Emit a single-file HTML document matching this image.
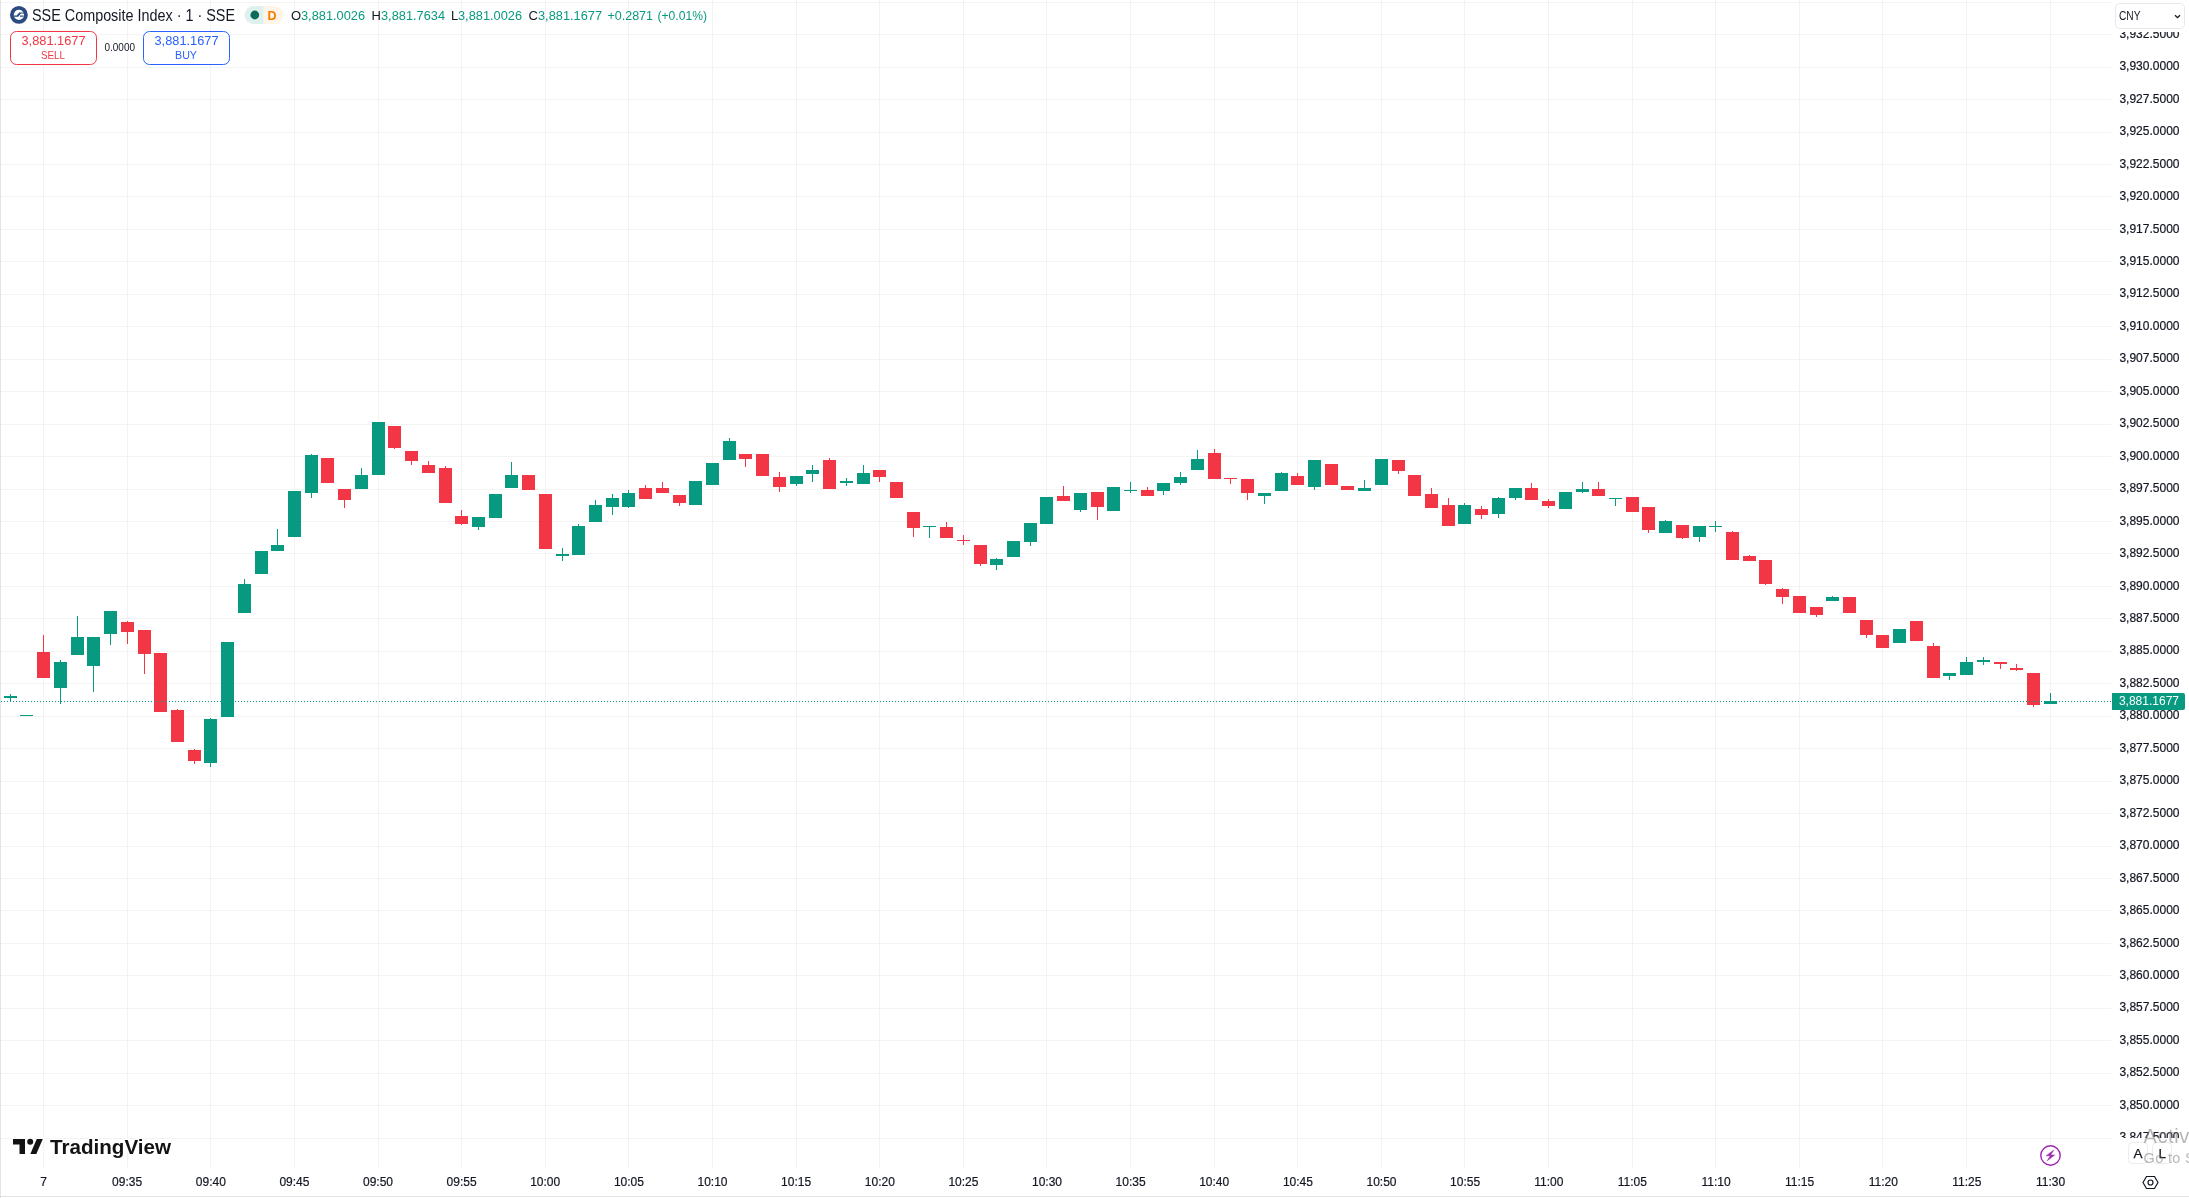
<!DOCTYPE html><html><head><meta charset="utf-8"><style>html,body{margin:0;padding:0;background:#fff;overflow:hidden}svg{display:block;will-change:transform}text{font-family:"Liberation Sans",sans-serif}</style></head><body><svg width="2189" height="1198" viewBox="0 0 2189 1198"><rect x="0" y="0" width="2189" height="1198" fill="#ffffff"/><g fill="#f3f3f4"><rect x="43" y="0" width="1" height="1168"/><rect x="127" y="0" width="1" height="1168"/><rect x="210" y="0" width="1" height="1168"/><rect x="294" y="0" width="1" height="1168"/><rect x="378" y="0" width="1" height="1168"/><rect x="461" y="0" width="1" height="1168"/><rect x="545" y="0" width="1" height="1168"/><rect x="628" y="0" width="1" height="1168"/><rect x="712" y="0" width="1" height="1168"/><rect x="796" y="0" width="1" height="1168"/><rect x="879" y="0" width="1" height="1168"/><rect x="963" y="0" width="1" height="1168"/><rect x="1046" y="0" width="1" height="1168"/><rect x="1130" y="0" width="1" height="1168"/><rect x="1214" y="0" width="1" height="1168"/><rect x="1297" y="0" width="1" height="1168"/><rect x="1381" y="0" width="1" height="1168"/><rect x="1464" y="0" width="1" height="1168"/><rect x="1548" y="0" width="1" height="1168"/><rect x="1632" y="0" width="1" height="1168"/><rect x="1715" y="0" width="1" height="1168"/><rect x="1799" y="0" width="1" height="1168"/><rect x="1882" y="0" width="1" height="1168"/><rect x="1966" y="0" width="1" height="1168"/><rect x="2050" y="0" width="1" height="1168"/><rect x="0" y="2" width="2111" height="1"/><rect x="0" y="34" width="2111" height="1"/><rect x="0" y="67" width="2111" height="1"/><rect x="0" y="99" width="2111" height="1"/><rect x="0" y="132" width="2111" height="1"/><rect x="0" y="164" width="2111" height="1"/><rect x="0" y="196" width="2111" height="1"/><rect x="0" y="229" width="2111" height="1"/><rect x="0" y="261" width="2111" height="1"/><rect x="0" y="294" width="2111" height="1"/><rect x="0" y="326" width="2111" height="1"/><rect x="0" y="359" width="2111" height="1"/><rect x="0" y="391" width="2111" height="1"/><rect x="0" y="424" width="2111" height="1"/><rect x="0" y="456" width="2111" height="1"/><rect x="0" y="489" width="2111" height="1"/><rect x="0" y="521" width="2111" height="1"/><rect x="0" y="553" width="2111" height="1"/><rect x="0" y="586" width="2111" height="1"/><rect x="0" y="618" width="2111" height="1"/><rect x="0" y="651" width="2111" height="1"/><rect x="0" y="683" width="2111" height="1"/><rect x="0" y="716" width="2111" height="1"/><rect x="0" y="748" width="2111" height="1"/><rect x="0" y="781" width="2111" height="1"/><rect x="0" y="813" width="2111" height="1"/><rect x="0" y="846" width="2111" height="1"/><rect x="0" y="878" width="2111" height="1"/><rect x="0" y="910" width="2111" height="1"/><rect x="0" y="943" width="2111" height="1"/><rect x="0" y="975" width="2111" height="1"/><rect x="0" y="1008" width="2111" height="1"/><rect x="0" y="1040" width="2111" height="1"/><rect x="0" y="1073" width="2111" height="1"/><rect x="0" y="1105" width="2111" height="1"/><rect x="0" y="1138" width="2111" height="1"/></g><g shape-rendering="crispEdges"><rect x="4" y="696" width="13" height="2" fill="#089981"/><rect x="10" y="694" width="1" height="8" fill="#089981"/><rect x="20" y="715" width="13" height="1" fill="#089981"/><rect x="37" y="652" width="13" height="26" fill="#f23645"/><rect x="43" y="635" width="1" height="43" fill="#f23645"/><rect x="54" y="662" width="13" height="26" fill="#089981"/><rect x="60" y="660" width="1" height="44" fill="#089981"/><rect x="71" y="637" width="13" height="18" fill="#089981"/><rect x="77" y="616" width="1" height="39" fill="#089981"/><rect x="87" y="637" width="13" height="29" fill="#089981"/><rect x="93" y="637" width="1" height="55" fill="#089981"/><rect x="104" y="611" width="13" height="23" fill="#089981"/><rect x="110" y="611" width="1" height="34" fill="#089981"/><rect x="121" y="622" width="13" height="10" fill="#f23645"/><rect x="127" y="621" width="1" height="23" fill="#f23645"/><rect x="138" y="630" width="13" height="24" fill="#f23645"/><rect x="144" y="630" width="1" height="44" fill="#f23645"/><rect x="154" y="653" width="13" height="59" fill="#f23645"/><rect x="171" y="710" width="13" height="32" fill="#f23645"/><rect x="177" y="709" width="1" height="33" fill="#f23645"/><rect x="188" y="750" width="13" height="11" fill="#f23645"/><rect x="194" y="749" width="1" height="15" fill="#f23645"/><rect x="204" y="719" width="13" height="44" fill="#089981"/><rect x="210" y="718" width="1" height="49" fill="#089981"/><rect x="221" y="642" width="13" height="75" fill="#089981"/><rect x="238" y="584" width="13" height="29" fill="#089981"/><rect x="244" y="579" width="1" height="34" fill="#089981"/><rect x="255" y="551" width="13" height="23" fill="#089981"/><rect x="271" y="545" width="13" height="6" fill="#089981"/><rect x="277" y="529" width="1" height="22" fill="#089981"/><rect x="288" y="491" width="13" height="46" fill="#089981"/><rect x="305" y="455" width="13" height="38" fill="#089981"/><rect x="311" y="454" width="1" height="44" fill="#089981"/><rect x="321" y="458" width="13" height="25" fill="#f23645"/><rect x="338" y="489" width="13" height="11" fill="#f23645"/><rect x="344" y="489" width="1" height="19" fill="#f23645"/><rect x="355" y="475" width="13" height="14" fill="#089981"/><rect x="361" y="468" width="1" height="21" fill="#089981"/><rect x="372" y="422" width="13" height="53" fill="#089981"/><rect x="388" y="426" width="13" height="22" fill="#f23645"/><rect x="394" y="426" width="1" height="23" fill="#f23645"/><rect x="405" y="451" width="13" height="10" fill="#f23645"/><rect x="411" y="451" width="1" height="14" fill="#f23645"/><rect x="422" y="465" width="13" height="8" fill="#f23645"/><rect x="428" y="461" width="1" height="12" fill="#f23645"/><rect x="439" y="468" width="13" height="35" fill="#f23645"/><rect x="445" y="466" width="1" height="37" fill="#f23645"/><rect x="455" y="516" width="13" height="8" fill="#f23645"/><rect x="461" y="510" width="1" height="15" fill="#f23645"/><rect x="472" y="517" width="13" height="10" fill="#089981"/><rect x="478" y="517" width="1" height="13" fill="#089981"/><rect x="489" y="494" width="13" height="24" fill="#089981"/><rect x="505" y="475" width="13" height="13" fill="#089981"/><rect x="511" y="462" width="1" height="26" fill="#089981"/><rect x="522" y="475" width="13" height="15" fill="#f23645"/><rect x="539" y="494" width="13" height="55" fill="#f23645"/><rect x="556" y="554" width="13" height="2" fill="#089981"/><rect x="562" y="548" width="1" height="13" fill="#089981"/><rect x="572" y="526" width="13" height="29" fill="#089981"/><rect x="578" y="524" width="1" height="31" fill="#089981"/><rect x="589" y="505" width="13" height="17" fill="#089981"/><rect x="595" y="500" width="1" height="22" fill="#089981"/><rect x="606" y="498" width="13" height="9" fill="#089981"/><rect x="612" y="494" width="1" height="21" fill="#089981"/><rect x="622" y="493" width="13" height="14" fill="#089981"/><rect x="628" y="490" width="1" height="18" fill="#089981"/><rect x="639" y="488" width="13" height="11" fill="#f23645"/><rect x="645" y="485" width="1" height="14" fill="#f23645"/><rect x="656" y="488" width="13" height="5" fill="#f23645"/><rect x="662" y="482" width="1" height="11" fill="#f23645"/><rect x="673" y="495" width="13" height="8" fill="#f23645"/><rect x="679" y="495" width="1" height="11" fill="#f23645"/><rect x="689" y="481" width="13" height="24" fill="#089981"/><rect x="706" y="463" width="13" height="22" fill="#089981"/><rect x="723" y="441" width="13" height="19" fill="#089981"/><rect x="729" y="438" width="1" height="22" fill="#089981"/><rect x="739" y="454" width="13" height="5" fill="#f23645"/><rect x="745" y="454" width="1" height="13" fill="#f23645"/><rect x="756" y="454" width="13" height="22" fill="#f23645"/><rect x="773" y="477" width="13" height="10" fill="#f23645"/><rect x="779" y="472" width="1" height="20" fill="#f23645"/><rect x="790" y="476" width="13" height="8" fill="#089981"/><rect x="796" y="476" width="1" height="10" fill="#089981"/><rect x="806" y="470" width="13" height="4" fill="#089981"/><rect x="812" y="465" width="1" height="17" fill="#089981"/><rect x="823" y="460" width="13" height="29" fill="#f23645"/><rect x="829" y="458" width="1" height="31" fill="#f23645"/><rect x="840" y="481" width="13" height="2" fill="#089981"/><rect x="846" y="478" width="1" height="8" fill="#089981"/><rect x="857" y="473" width="13" height="11" fill="#089981"/><rect x="863" y="465" width="1" height="19" fill="#089981"/><rect x="873" y="470" width="13" height="7" fill="#f23645"/><rect x="879" y="470" width="1" height="12" fill="#f23645"/><rect x="890" y="482" width="13" height="16" fill="#f23645"/><rect x="907" y="512" width="13" height="16" fill="#f23645"/><rect x="913" y="512" width="1" height="25" fill="#f23645"/><rect x="923" y="526" width="13" height="1" fill="#089981"/><rect x="929" y="526" width="1" height="12" fill="#089981"/><rect x="940" y="527" width="13" height="11" fill="#f23645"/><rect x="946" y="522" width="1" height="16" fill="#f23645"/><rect x="957" y="540" width="13" height="1" fill="#f23645"/><rect x="963" y="535" width="1" height="10" fill="#f23645"/><rect x="974" y="545" width="13" height="19" fill="#f23645"/><rect x="980" y="545" width="1" height="21" fill="#f23645"/><rect x="990" y="559" width="13" height="6" fill="#089981"/><rect x="996" y="558" width="1" height="12" fill="#089981"/><rect x="1007" y="541" width="13" height="16" fill="#089981"/><rect x="1024" y="523" width="13" height="19" fill="#089981"/><rect x="1030" y="523" width="1" height="23" fill="#089981"/><rect x="1040" y="497" width="13" height="27" fill="#089981"/><rect x="1057" y="496" width="13" height="5" fill="#f23645"/><rect x="1063" y="486" width="1" height="15" fill="#f23645"/><rect x="1074" y="493" width="13" height="17" fill="#089981"/><rect x="1080" y="493" width="1" height="19" fill="#089981"/><rect x="1091" y="492" width="13" height="15" fill="#f23645"/><rect x="1097" y="492" width="1" height="28" fill="#f23645"/><rect x="1107" y="487" width="13" height="24" fill="#089981"/><rect x="1124" y="490" width="13" height="1" fill="#089981"/><rect x="1130" y="482" width="1" height="11" fill="#089981"/><rect x="1141" y="490" width="13" height="6" fill="#f23645"/><rect x="1147" y="487" width="1" height="9" fill="#f23645"/><rect x="1157" y="483" width="13" height="8" fill="#089981"/><rect x="1163" y="483" width="1" height="12" fill="#089981"/><rect x="1174" y="477" width="13" height="6" fill="#089981"/><rect x="1180" y="472" width="1" height="13" fill="#089981"/><rect x="1191" y="459" width="13" height="11" fill="#089981"/><rect x="1197" y="450" width="1" height="20" fill="#089981"/><rect x="1208" y="453" width="13" height="26" fill="#f23645"/><rect x="1214" y="449" width="1" height="30" fill="#f23645"/><rect x="1224" y="478" width="13" height="1" fill="#f23645"/><rect x="1230" y="478" width="1" height="6" fill="#f23645"/><rect x="1241" y="479" width="13" height="14" fill="#f23645"/><rect x="1247" y="479" width="1" height="21" fill="#f23645"/><rect x="1258" y="493" width="13" height="3" fill="#089981"/><rect x="1264" y="493" width="1" height="11" fill="#089981"/><rect x="1275" y="473" width="13" height="18" fill="#089981"/><rect x="1281" y="472" width="1" height="19" fill="#089981"/><rect x="1291" y="476" width="13" height="9" fill="#f23645"/><rect x="1297" y="473" width="1" height="12" fill="#f23645"/><rect x="1308" y="460" width="13" height="27" fill="#089981"/><rect x="1314" y="460" width="1" height="30" fill="#089981"/><rect x="1325" y="464" width="13" height="21" fill="#f23645"/><rect x="1341" y="486" width="13" height="4" fill="#f23645"/><rect x="1358" y="488" width="13" height="3" fill="#089981"/><rect x="1364" y="480" width="1" height="11" fill="#089981"/><rect x="1375" y="459" width="13" height="26" fill="#089981"/><rect x="1392" y="460" width="13" height="11" fill="#f23645"/><rect x="1398" y="460" width="1" height="14" fill="#f23645"/><rect x="1408" y="475" width="13" height="21" fill="#f23645"/><rect x="1425" y="494" width="13" height="14" fill="#f23645"/><rect x="1431" y="488" width="1" height="20" fill="#f23645"/><rect x="1442" y="505" width="13" height="21" fill="#f23645"/><rect x="1448" y="498" width="1" height="28" fill="#f23645"/><rect x="1458" y="505" width="13" height="19" fill="#089981"/><rect x="1464" y="503" width="1" height="21" fill="#089981"/><rect x="1475" y="509" width="13" height="6" fill="#f23645"/><rect x="1481" y="506" width="1" height="13" fill="#f23645"/><rect x="1492" y="498" width="13" height="16" fill="#089981"/><rect x="1498" y="497" width="1" height="21" fill="#089981"/><rect x="1509" y="488" width="13" height="10" fill="#089981"/><rect x="1515" y="488" width="1" height="12" fill="#089981"/><rect x="1525" y="488" width="13" height="12" fill="#f23645"/><rect x="1531" y="483" width="1" height="17" fill="#f23645"/><rect x="1542" y="501" width="13" height="5" fill="#f23645"/><rect x="1548" y="499" width="1" height="9" fill="#f23645"/><rect x="1559" y="492" width="13" height="17" fill="#089981"/><rect x="1576" y="489" width="13" height="3" fill="#089981"/><rect x="1582" y="482" width="1" height="11" fill="#089981"/><rect x="1592" y="489" width="13" height="7" fill="#f23645"/><rect x="1598" y="482" width="1" height="14" fill="#f23645"/><rect x="1609" y="498" width="13" height="1" fill="#089981"/><rect x="1615" y="498" width="1" height="8" fill="#089981"/><rect x="1626" y="497" width="13" height="15" fill="#f23645"/><rect x="1642" y="507" width="13" height="23" fill="#f23645"/><rect x="1648" y="507" width="1" height="26" fill="#f23645"/><rect x="1659" y="521" width="13" height="12" fill="#089981"/><rect x="1665" y="520" width="1" height="13" fill="#089981"/><rect x="1676" y="525" width="13" height="13" fill="#f23645"/><rect x="1682" y="525" width="1" height="14" fill="#f23645"/><rect x="1693" y="526" width="13" height="11" fill="#089981"/><rect x="1699" y="526" width="1" height="16" fill="#089981"/><rect x="1709" y="526" width="13" height="1" fill="#089981"/><rect x="1715" y="521" width="1" height="11" fill="#089981"/><rect x="1726" y="532" width="13" height="28" fill="#f23645"/><rect x="1732" y="531" width="1" height="29" fill="#f23645"/><rect x="1743" y="556" width="13" height="5" fill="#f23645"/><rect x="1749" y="555" width="1" height="6" fill="#f23645"/><rect x="1759" y="560" width="13" height="24" fill="#f23645"/><rect x="1765" y="560" width="1" height="25" fill="#f23645"/><rect x="1776" y="589" width="13" height="8" fill="#f23645"/><rect x="1782" y="588" width="1" height="16" fill="#f23645"/><rect x="1793" y="596" width="13" height="17" fill="#f23645"/><rect x="1810" y="607" width="13" height="8" fill="#f23645"/><rect x="1816" y="607" width="1" height="10" fill="#f23645"/><rect x="1826" y="597" width="13" height="4" fill="#089981"/><rect x="1832" y="596" width="1" height="5" fill="#089981"/><rect x="1843" y="597" width="13" height="16" fill="#f23645"/><rect x="1860" y="620" width="13" height="15" fill="#f23645"/><rect x="1866" y="620" width="1" height="18" fill="#f23645"/><rect x="1876" y="635" width="13" height="13" fill="#f23645"/><rect x="1893" y="629" width="13" height="14" fill="#089981"/><rect x="1910" y="621" width="13" height="20" fill="#f23645"/><rect x="1927" y="646" width="13" height="32" fill="#f23645"/><rect x="1933" y="643" width="1" height="35" fill="#f23645"/><rect x="1943" y="673" width="13" height="3" fill="#089981"/><rect x="1949" y="673" width="1" height="7" fill="#089981"/><rect x="1960" y="662" width="13" height="13" fill="#089981"/><rect x="1966" y="657" width="1" height="18" fill="#089981"/><rect x="1977" y="660" width="13" height="2" fill="#089981"/><rect x="1983" y="657" width="1" height="8" fill="#089981"/><rect x="1994" y="662" width="13" height="2" fill="#f23645"/><rect x="2000" y="662" width="1" height="7" fill="#f23645"/><rect x="2010" y="668" width="13" height="2" fill="#f23645"/><rect x="2016" y="664" width="1" height="7" fill="#f23645"/><rect x="2027" y="673" width="13" height="32" fill="#f23645"/><rect x="2033" y="673" width="1" height="34" fill="#f23645"/><rect x="2044" y="701" width="13" height="3" fill="#089981"/><rect x="2050" y="693" width="1" height="11" fill="#089981"/></g><line x1="0" y1="701.5" x2="2111" y2="701.5" stroke="#089981" stroke-width="1" stroke-dasharray="1 2" stroke-dashoffset="-1"/><rect x="0" y="0" width="1" height="1198" fill="#e3e3e3"/><rect x="0" y="1196" width="2189" height="1" fill="#e3e3e3"/><g font-size="12" fill="#131722" stroke="#131722" stroke-width="0.2"><text x="2179.5" y="37.7" text-anchor="end">3,932.5000</text><text x="2179.5" y="70.2" text-anchor="end">3,930.0000</text><text x="2179.5" y="102.7" text-anchor="end">3,927.5000</text><text x="2179.5" y="135.1" text-anchor="end">3,925.0000</text><text x="2179.5" y="167.6" text-anchor="end">3,922.5000</text><text x="2179.5" y="200.0" text-anchor="end">3,920.0000</text><text x="2179.5" y="232.5" text-anchor="end">3,917.5000</text><text x="2179.5" y="264.9" text-anchor="end">3,915.0000</text><text x="2179.5" y="297.4" text-anchor="end">3,912.5000</text><text x="2179.5" y="329.9" text-anchor="end">3,910.0000</text><text x="2179.5" y="362.3" text-anchor="end">3,907.5000</text><text x="2179.5" y="394.8" text-anchor="end">3,905.0000</text><text x="2179.5" y="427.2" text-anchor="end">3,902.5000</text><text x="2179.5" y="459.7" text-anchor="end">3,900.0000</text><text x="2179.5" y="492.1" text-anchor="end">3,897.5000</text><text x="2179.5" y="524.6" text-anchor="end">3,895.0000</text><text x="2179.5" y="557.0" text-anchor="end">3,892.5000</text><text x="2179.5" y="589.5" text-anchor="end">3,890.0000</text><text x="2179.5" y="622.0" text-anchor="end">3,887.5000</text><text x="2179.5" y="654.4" text-anchor="end">3,885.0000</text><text x="2179.5" y="686.9" text-anchor="end">3,882.5000</text><text x="2179.5" y="719.3" text-anchor="end">3,880.0000</text><text x="2179.5" y="751.8" text-anchor="end">3,877.5000</text><text x="2179.5" y="784.2" text-anchor="end">3,875.0000</text><text x="2179.5" y="816.7" text-anchor="end">3,872.5000</text><text x="2179.5" y="849.2" text-anchor="end">3,870.0000</text><text x="2179.5" y="881.6" text-anchor="end">3,867.5000</text><text x="2179.5" y="914.1" text-anchor="end">3,865.0000</text><text x="2179.5" y="946.5" text-anchor="end">3,862.5000</text><text x="2179.5" y="979.0" text-anchor="end">3,860.0000</text><text x="2179.5" y="1011.4" text-anchor="end">3,857.5000</text><text x="2179.5" y="1043.9" text-anchor="end">3,855.0000</text><text x="2179.5" y="1076.4" text-anchor="end">3,852.5000</text><text x="2179.5" y="1108.8" text-anchor="end">3,850.0000</text><text x="2179.5" y="1141.3" text-anchor="end">3,847.5000</text></g><rect x="2112" y="1138" width="77" height="30" fill="#ffffff"/><rect x="2112" y="0" width="77" height="32" fill="#ffffff"/><path d="M2112 693 H2183 Q2185 693 2185 695 V708 Q2185 710 2183 710 H2112 Z" fill="#089981"/><text x="2179" y="705" text-anchor="end" font-size="12" fill="#ffffff">3,881.1677</text><rect x="2115.5" y="3.5" width="69" height="25" rx="4.5" fill="#ffffff" stroke="#e8e8ea" stroke-width="1"/><text x="2119" y="20" font-size="12" fill="#131722" textLength="21.5" lengthAdjust="spacingAndGlyphs">CNY</text><path d="M2175 15.2 L2177.5 17.7 L2180 15.2" fill="none" stroke="#131722" stroke-width="1.3"/><g font-size="12" fill="#131722" stroke="#131722" stroke-width="0.2"><text x="43.5" y="1186" text-anchor="middle">7</text><text x="127.1" y="1186" text-anchor="middle">09:35</text><text x="210.8" y="1186" text-anchor="middle">09:40</text><text x="294.4" y="1186" text-anchor="middle">09:45</text><text x="378.0" y="1186" text-anchor="middle">09:50</text><text x="461.6" y="1186" text-anchor="middle">09:55</text><text x="545.2" y="1186" text-anchor="middle">10:00</text><text x="628.9" y="1186" text-anchor="middle">10:05</text><text x="712.5" y="1186" text-anchor="middle">10:10</text><text x="796.1" y="1186" text-anchor="middle">10:15</text><text x="879.8" y="1186" text-anchor="middle">10:20</text><text x="963.4" y="1186" text-anchor="middle">10:25</text><text x="1047.0" y="1186" text-anchor="middle">10:30</text><text x="1130.6" y="1186" text-anchor="middle">10:35</text><text x="1214.2" y="1186" text-anchor="middle">10:40</text><text x="1297.9" y="1186" text-anchor="middle">10:45</text><text x="1381.5" y="1186" text-anchor="middle">10:50</text><text x="1465.1" y="1186" text-anchor="middle">10:55</text><text x="1548.8" y="1186" text-anchor="middle">11:00</text><text x="1632.4" y="1186" text-anchor="middle">11:05</text><text x="1716.0" y="1186" text-anchor="middle">11:10</text><text x="1799.6" y="1186" text-anchor="middle">11:15</text><text x="1883.3" y="1186" text-anchor="middle">11:20</text><text x="1966.9" y="1186" text-anchor="middle">11:25</text><text x="2050.5" y="1186" text-anchor="middle">11:30</text></g><path d="M2146.5 1176.5 H2154.5 L2158 1182.5 L2154.5 1188.5 H2146.5 L2143 1182.5 Z" fill="none" stroke="#131722" stroke-width="1.2"/><circle cx="2150.5" cy="1182.5" r="2.5" fill="none" stroke="#131722" stroke-width="1.2"/><rect x="2128.5" y="1142.5" width="19" height="21" rx="4" fill="#ffffff" stroke="#ececec"/><rect x="2152.5" y="1142.5" width="19" height="21" rx="4" fill="#ffffff" stroke="#ececec"/><text x="2138" y="1158" text-anchor="middle" font-size="13.5" fill="#131722" stroke="#131722" stroke-width="0.25">A</text><text x="2162.3" y="1158" text-anchor="middle" font-size="13.5" fill="#131722" stroke="#131722" stroke-width="0.25">L</text><circle cx="2050.5" cy="1155.5" r="9.7" fill="#ffffff" stroke="#9c27b0" stroke-width="1.4"/><path d="M2053.8 1150 L2046.2 1155.8 H2050.3 L2047.2 1160.8 L2054.7 1155 H2050.7 Z" fill="#9c27b0" stroke="#9c27b0" stroke-width="0.5" stroke-linejoin="round"/><circle cx="18.9" cy="14.9" r="7.0" fill="none" stroke="#2a4a82" stroke-width="3.8"/><path d="M14 16.2 H17 L19.5 13 H24 M17.5 16.5 L20.5 13.2 M20 16.2 H23.5" fill="none" stroke="#2a4a82" stroke-width="1.2"/><text x="32" y="21" font-size="16" fill="#131722" textLength="203" lengthAdjust="spacingAndGlyphs">SSE Composite Index · 1 · SSE</text><path d="M253.5 6 H263.7 V24 H253.5 A9 9 0 0 1 253.5 6 Z" fill="#dff1ee"/><path d="M263.7 6 H274.5 A9 9 0 0 1 274.5 24 H263.7 Z" fill="#fff4e8"/><circle cx="254.8" cy="15" r="4.4" fill="#0b6b58"/><text x="267.5" y="20" font-size="12.5" font-weight="700" fill="#f57c00">D</text><text x="291" y="20" font-size="13" fill="#131722">O</text><text x="301" y="20" font-size="13" fill="#089981" textLength="64" lengthAdjust="spacingAndGlyphs">3,881.0026</text><text x="371.5" y="20" font-size="13" fill="#131722">H</text><text x="381" y="20" font-size="13" fill="#089981" textLength="64" lengthAdjust="spacingAndGlyphs">3,881.7634</text><text x="451" y="20" font-size="13" fill="#131722">L</text><text x="458" y="20" font-size="13" fill="#089981" textLength="64" lengthAdjust="spacingAndGlyphs">3,881.0026</text><text x="528.5" y="20" font-size="13" fill="#131722">C</text><text x="538" y="20" font-size="13" fill="#089981" textLength="64" lengthAdjust="spacingAndGlyphs">3,881.1677</text><text x="607.5" y="20" font-size="13" fill="#089981" textLength="45.5" lengthAdjust="spacingAndGlyphs">+0.2871</text><text x="657.5" y="20" font-size="13" fill="#089981" textLength="49.5" lengthAdjust="spacingAndGlyphs">(+0.01%)</text><rect x="10.5" y="31.5" width="86" height="33" rx="6" fill="#ffffff" stroke="#f23645" stroke-width="1"/><text x="21.5" y="45" font-size="12" fill="#f23645" textLength="64" lengthAdjust="spacingAndGlyphs">3,881.1677</text><text x="41" y="59" font-size="10.5" fill="#f23645" textLength="24" lengthAdjust="spacingAndGlyphs">SELL</text><text x="104.5" y="51" font-size="10" fill="#131722" textLength="30.5" lengthAdjust="spacingAndGlyphs">0.0000</text><rect x="143.5" y="31.5" width="86" height="33" rx="6" fill="#ffffff" stroke="#2962ff" stroke-width="1"/><text x="154.5" y="45" font-size="12" fill="#2962ff" textLength="64" lengthAdjust="spacingAndGlyphs">3,881.1677</text><text x="175" y="59" font-size="10.5" fill="#2962ff" textLength="22" lengthAdjust="spacingAndGlyphs">BUY</text><g fill="#131313" stroke="#ffffff" stroke-width="3" paint-order="stroke" stroke-linejoin="round"><path d="M13 1139 H25 V1154 H19.5 V1144.5 H13 Z"/><circle cx="30.2" cy="1141.8" r="3"/><path d="M36.8 1139 H42.8 L36.3 1154 H30.3 Z"/><text x="50" y="1154" font-size="20.5" font-weight="700" textLength="121" lengthAdjust="spacingAndGlyphs">TradingView</text></g><text x="2143.5" y="1142.7" font-size="20" letter-spacing="0.6" fill="#7a7a7a" fill-opacity="0.55">Activate Windows</text><text x="2143.5" y="1163.4" font-size="14.5" letter-spacing="0.35" fill="#7a7a7a" fill-opacity="0.55">Go to Settings to activate Windows.</text></svg></body></html>
